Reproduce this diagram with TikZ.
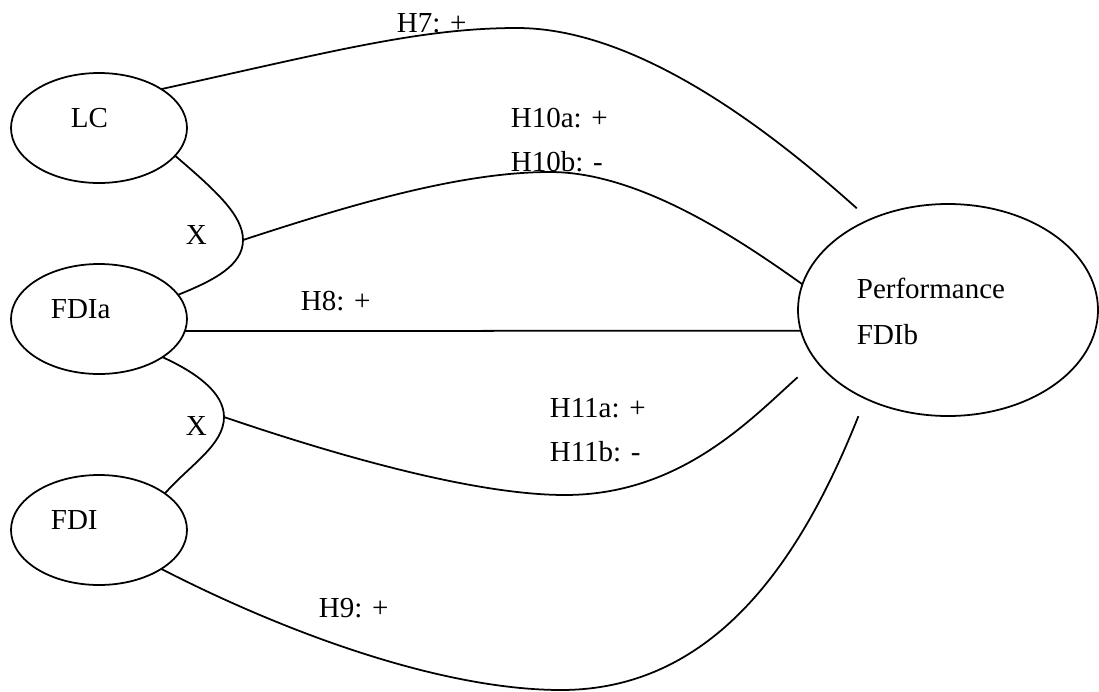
\documentclass[tikz,border=0pt]{standalone}
\usepackage{fontspec}
\setmainfont{Liberation Serif}
\usepackage{tikz}
\usetikzlibrary{shapes.geometric}
\newcommand{\px}{0.2mm}

\begin{document}
\begin{tikzpicture}[x=\px, y=-\px, line width=1pt,
    blob/.style={ellipse, draw, inner sep=0pt, outer sep=0pt,
                 minimum width=176*\px, minimum height=110*\px},
    tag/.style={anchor=base west, inner sep=0pt,
                font=\fontsize{16.5}{20}\selectfont}]
    \useasboundingbox (0,0) rectangle (1099,692);
    % constructs
    \foreach \n/\y in {lc/128,fdia/319,fdi/530}{
    \node[blob] (\n) at (99,\y) {};
    }
    \node[blob, minimum width=300*\px, minimum height=212*\px] (perf) at (948,310) {};
    \node[tag] (lc-t) at (70,127) {LC};
    \node[tag] (fdia-t) at (50,318) {FDIa};
    \node[tag] (fdi-t) at (50,529) {FDI};
    \node[tag] (perf-t) at (856,298) {Performance};
    \node[tag] (fdib-t) at (856,344) {FDIb};
    % interaction kinks
    \coordinate (kink1) at (243,240);
    \coordinate (kink2) at (224,417);
    \draw (lc.-20) .. controls (215,190) and (243,215) .. (kink1)
                   .. controls (243,265) and (215,280) .. (fdia.17);
    \draw (fdia.-31) .. controls (195,372) and (224,392) .. (kink2)
                     .. controls (224,445) and (190,465) .. (fdi.29);
    \node[tag] (x1-t) at (185,244) {X};
    \node[tag] (x2-t) at (185,435) {X};
    % paths into performance
    \draw[shorten >=3.4mm] (lc.32) .. controls (330,52) and (420,28) .. (517,28)
                   .. controls (640,28) and (775,135) .. (perf.131);
    \draw (kink1) .. controls (350,205) and (460,172) .. (550,172)
                  .. controls (640,172) and (740,240) .. (perf.170);
    \draw (fdia.-8) -- (perf.188);
    \draw[shorten >=5mm] (kink2) .. controls (350,460) and (480,495) .. (565,495)
                  .. controls (680,495) and (750,420) .. (perf.201);
    \draw[shorten >=3.8mm] (fdi.-32) .. controls (300,640) and (450,690) .. (561,690)
                   .. controls (720,690) and (805,550) .. (perf.227);
    % hypotheses
    \node[tag] (h7) at (396,32) {H7: +};
    \node[tag] (h10a) at (510,127) {H10a: +};
    \node[tag] (h10b) at (510,171) {H10b: -};
    \node[tag] (h8) at (300,310) {H8: +};
    \node[tag] (h11a) at (549,417) {H11a: +};
    \node[tag] (h11b) at (549,461) {H11b: -};
    \node[tag] (h9) at (318,617) {H9: +};
\end{tikzpicture}
\end{document}
